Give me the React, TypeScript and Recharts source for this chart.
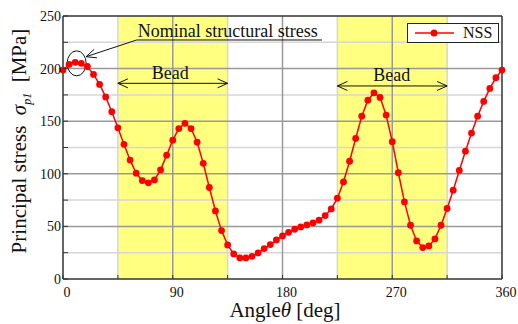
import { LineChart, Line, XAxis, YAxis, ReferenceArea, ReferenceLine, ReferenceDot, Legend } from 'recharts';

const angles = [
  0, 5, 10, 15, 20, 25, 30, 35, 40, 45, 50, 55, 60, 65, 70, 75, 80, 85, 90, 95,
  100, 105, 110, 115, 120, 125, 130, 135, 140, 145, 150, 155, 160, 165, 170, 175,
  180, 185, 190, 195, 200, 205, 210, 215, 220, 225, 230, 235, 240, 245, 250, 255,
  260, 265, 270, 275, 280, 285, 290, 295, 300, 305, 310, 315, 320, 325, 330, 335,
  340, 345, 350, 355, 360,
];

const nss = [
  198.6, 204, 206, 205, 202, 194.5, 185, 173, 159, 143.7, 128, 113, 100.6, 93.6, 91.4, 94.2, 103.7, 117.7, 132, 143,
  148, 143, 130, 110, 87, 64.7, 46, 32.4, 23.8, 20, 20, 21.6, 24.7, 28.9, 32.7, 37.1,
  40.9, 44.4, 47.3, 49.5, 51.4, 53.3, 55.9, 60.3, 66.6, 76.8, 92.3, 112, 133.6, 154.8, 170, 177,
  172.6, 155.8, 130.5, 101, 73.3, 51.1, 36.2, 29.9, 31.4, 38.1, 51.1, 67, 84.4, 103.2, 121.5, 138.7,
  154.8, 168.8, 181.2, 191.3, 198.6,
];

const xLabels = [0, 90, 180, 270, 360];
const xMinor = [45, 135, 225, 315];
const yLabels = [0, 50, 100, 150, 200, 250];
const yMinor = [25, 75, 125, 175, 225];
const beadStart = [45, 225];
const beadEnd = [135, 315];

const data = angles.map((a, i) => ({ angle: a, NSS: nss[i] }));

const FONT = '"Liberation Serif", "Times New Roman", serif';
const FRAME = '#333';

const XTick = (props: any) => {
  const { x, y, payload } = props;
  const show = xLabels.includes(payload.value);
  return (
    <g>
      <line x1={x} y1={y} x2={x} y2={y - 4} stroke={FRAME} strokeWidth={1} />
      {show && (
        <text x={x + 4} y={y + 18} textAnchor="middle" fontSize={14} fontFamily={FONT} fill="#111">
          {payload.value}
        </text>
      )}
    </g>
  );
};

const YTick = (props: any) => {
  const { x, y, payload } = props;
  const show = yLabels.includes(payload.value);
  return (
    <g>
      <line x1={x} y1={y} x2={x + 5} y2={y} stroke={FRAME} strokeWidth={1} />
      {show && (
        <text x={x - 2} y={y + 5} textAnchor="end" fontSize={14} fontFamily={FONT} fill="#111">
          {payload.value}
        </text>
      )}
    </g>
  );
};

// line with open arrow heads, used for the bead spans and the callout
const ArrowLine = ({ both }: { both: boolean }) => (props: any) => {
  const { x1, y1, x2, y2 } = props;
  const ang = Math.atan2(y2 - y1, x2 - x1);
  const head = (px: number, py: number, a: number) => {
    const l = 11;
    const s = 0.42;
    return (
      <polyline
        points={`${px - l * Math.cos(a - s)},${py - l * Math.sin(a - s)} ${px},${py} ${px - l * Math.cos(a + s)},${py - l * Math.sin(a + s)}`}
        fill="none"
        stroke="#111"
        strokeWidth={1}
      />
    );
  };
  return (
    <g>
      <line x1={x1} y1={y1} x2={x2} y2={y2} stroke="#111" strokeWidth={1} />
      {head(x2, y2, ang)}
      {both && head(x1, y1, ang + Math.PI)}
    </g>
  );
};

const PlainLine = (props: any) => (
  <line x1={props.x1} y1={props.y1} x2={props.x2} y2={props.y2} stroke="#111" strokeWidth={1} />
);

const TextMark = (text: string, anchor: string, size: number) => (props: any) => (
  <text x={props.cx} y={props.cy} textAnchor={anchor} fontSize={size} fontFamily={FONT} fill="#111">
    {text}
  </text>
);

const EllipseMark = (props: any) => (
  <ellipse cx={props.cx} cy={props.cy} rx={9.5} ry={12.5} fill="none" stroke="#111" strokeWidth={1} />
);

const LegendBox = () => (
  <div
    style={{
      width: 92,
      height: 20,
      boxSizing: 'border-box',
      border: '1px solid #222',
      background: '#fff',
      display: 'flex',
      alignItems: 'center',
      fontFamily: FONT,
      fontSize: 16,
      color: '#111',
    }}
  >
    <svg width={52} height={18}>
      <line x1={7} y1={9} x2={46} y2={9} stroke="#ff0000" strokeWidth={1.5} />
      <circle cx={26} cy={9} r={3.5} fill="#ff0000" />
    </svg>
    <span style={{ marginLeft: 3 }}>NSS</span>
  </div>
);

export default function App() {
  return (
    <div style={{ position: 'absolute', left: 0, top: 0, width: 518, height: 324, background: '#fff' }}>
      <LineChart width={518} height={324} data={data} margin={{ top: 16, right: 16, bottom: 0, left: 0 }}>
        {beadStart.map((s, i) => (
          <ReferenceArea key={`bead-${i}`} x1={s} x2={beadEnd[i]} y1={0} y2={250} fill="#ffff80" fillOpacity={1} stroke="none" zIndex={-200} />
        ))}
        {xMinor.map((v) => (
          <ReferenceLine key={`xm-${v}`} x={v} stroke="#d6d6d6" strokeWidth={1.5} zIndex={-100} />
        ))}
        {yMinor.map((v) => (
          <ReferenceLine key={`ym-${v}`} y={v} stroke="#d6d6d6" strokeWidth={1.5} zIndex={-100} />
        ))}
        {xLabels.slice(1, -1).map((v) => (
          <ReferenceLine key={`xM-${v}`} x={v} stroke="#999" strokeWidth={1.5} zIndex={-90} />
        ))}
        {yLabels.slice(1, -1).map((v) => (
          <ReferenceLine key={`yM-${v}`} y={v} stroke="#999" strokeWidth={1.5} zIndex={-90} />
        ))}
        <ReferenceLine y={250} stroke={FRAME} strokeWidth={1.5} zIndex={-80} />
        <ReferenceLine x={360} stroke={FRAME} strokeWidth={1.5} zIndex={-80} />
        <XAxis
          dataKey="angle"
          type="number"
          domain={[0, 360]}
          ticks={[0, 45, 90, 135, 180, 225, 270, 315, 360]}
          interval={0}
          height={45}
          tickSize={0}
          tickMargin={0}
          tick={<XTick />}
          axisLine={{ stroke: FRAME, strokeWidth: 1.5 }}
          label={(p: any) => (
            <text x={285} y={317} textAnchor="middle" fontSize={21} fontFamily={FONT} fill="#111">
              Angle<tspan fontStyle="italic">θ</tspan> [deg]
            </text>
          )}
        />
        <YAxis
          type="number"
          domain={[0, 250]}
          ticks={[0, 25, 50, 75, 100, 125, 150, 175, 200, 225, 250]}
          interval={0}
          width={63}
          tickSize={0}
          tickMargin={0}
          tick={<YTick />}
          axisLine={{ stroke: FRAME, strokeWidth: 1.5 }}
          label={(p: any) => (
            <text
              x={26}
              y={141}
              transform="rotate(-90 26 141)"
              textAnchor="middle"
              fontSize={21}
              fontFamily={FONT}
              fill="#111"
              style={{ whiteSpace: 'pre' }}
            >
              Principal stress  <tspan fontStyle="italic">σ</tspan>
              <tspan fontStyle="italic" fontSize={12} dy={5}>p1</tspan>
              <tspan dy={-5}>  [MPa]</tspan>
            </text>
          )}
        />
        <Line
          dataKey="NSS"
          stroke="#ff0000"
          strokeWidth={1.5}
          dot={{ r: 3.4, fill: '#ff0000', stroke: 'none' }}
          isAnimationActive={false}
          zIndex={550}
        />
        <ReferenceLine segment={[{ x: 45, y: 186 }, { x: 135, y: 186 }]} shape={ArrowLine({ both: true })} zIndex={600} />
        <ReferenceLine segment={[{ x: 225, y: 183.5 }, { x: 315, y: 183.5 }]} shape={ArrowLine({ both: true })} zIndex={600} />
        <ReferenceDot x={88} y={190} shape={TextMark('Bead', 'middle', 18)} zIndex={600} />
        <ReferenceDot x={269.6} y={188} shape={TextMark('Bead', 'middle', 18)} zIndex={600} />
        <ReferenceDot x={11.2} y={205} shape={EllipseMark} zIndex={600} />
        <ReferenceLine segment={[{ x: 60.4, y: 227.2 }, { x: 18.9, y: 211.3 }]} shape={ArrowLine({ both: false })} zIndex={600} />
        <ReferenceLine segment={[{ x: 60.4, y: 227.2 }, { x: 212.4, y: 227.2 }]} shape={PlainLine} zIndex={600} />
        <ReferenceDot x={61.3} y={230.3} shape={TextMark('Nominal structural stress', 'start', 18)} zIndex={600} />
        <Legend
          content={<LegendBox />}
          layout="horizontal"
          verticalAlign="middle"
          align="center"
          wrapperStyle={{ position: 'absolute', left: 407, top: 23, width: 92, height: 20 }}
        />
      </LineChart>
    </div>
  );
}
